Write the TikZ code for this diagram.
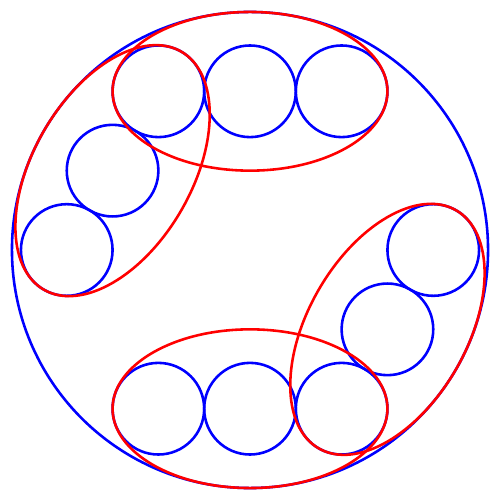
\documentclass[tikz,border=0pt]{standalone}
\begin{document}
\begin{tikzpicture}[line width=1.6pt]

		% frame
		\useasboundingbox (-5.457,-5.457) rectangle (5.457,5.457);

		% outer circle
		\draw[blue] (0cm,0cm) circle(5.196cm);

		% small circles on the corners
		\foreach \a in {0,60,...,300}
			\draw[blue] (\a:4cm) circle(1cm);
		% small circles on the middle of the sides
		\foreach \a in {90,150,270,330}
			\draw[blue] (\a:3.464cm) circle(1cm);

		% ellipses round three circles
		\foreach \a in {90,150,270,330}
			\draw[red,shift={(\a:3.464cm)},rotate=\a-90] (0,0) ellipse (3cm and 1.732cm);

	\end{tikzpicture}
\end{document}
